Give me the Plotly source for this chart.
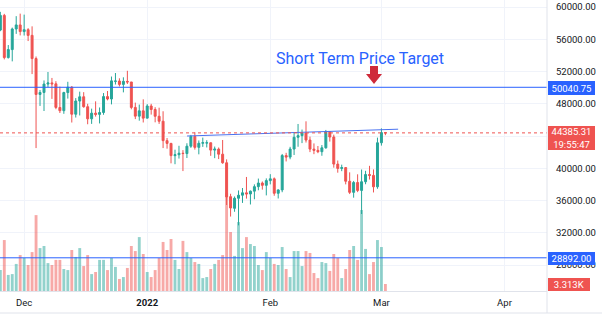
import pandas as pd
import plotly.graph_objects as go

# Daily BTC candles, 25 Nov 2021 - 2 Mar 2022
dates = pd.date_range("2021-11-25", periods=98, freq="D")

opens = [57138, 58960, 53723, 54716, 57274, 57776, 56950, 57184, 56484, 53601,
         49152, 49397, 50441, 50588, 50471, 47535, 47140, 49389, 50053, 46702,
         48336, 48864, 47632, 46133, 46835, 46681, 46914, 48887, 48588, 50780,
         50820, 50400, 50775, 50701, 47544, 46464, 47120, 46216, 47722, 47287,
         46446, 45833, 43425, 43082, 41561, 41679, 41865, 41822, 42735, 43949,
         42592, 43100, 43120, 43160, 42250, 42374, 41744, 40680, 36471, 35030,
         36275, 36655, 36950, 36809, 37160, 37717, 38166, 37881, 38466, 38691,
         36896, 37311, 41571, 41383, 42380, 43839, 44043, 44373, 43495, 42373,
         42217, 42054, 42535, 44545, 43873, 40515, 39974, 40080, 38386, 37008,
         38230, 37250, 38328, 39219, 39116, 37699, 43160, 44421]
highs = [59398, 59150, 55280, 57445, 58865, 59176, 59053, 57375, 57600, 53859,
         49699, 50891, 51936, 51200, 50797, 50125, 49485, 50724, 50189, 48700,
         49500, 49436, 47995, 47392, 48300, 47537, 49328, 49576, 51375, 51810,
         51156, 51280, 52088, 50704, 48139, 47900, 48548, 47954, 47990, 47570,
         47510, 47070, 43748, 43145, 42300, 42786, 42248, 43100, 44135, 44460,
         43447, 43800, 43478, 43180, 42691, 42574, 43505, 41100, 36835, 36500,
         37247, 37550, 38919, 37234, 38000, 38720, 38359, 38744, 39265, 38855,
         37387, 41772, 41913, 42656, 44500, 45492, 44799, 45821, 43920, 43079,
         42760, 42876, 44751, 44549, 44164, 40959, 40444, 40125, 39494, 38430,
         39249, 39843, 39683, 40300, 39855, 43800, 44949, 44500]
lows = [57000, 53500, 53610, 53256, 56666, 56476, 56458, 55777, 51680, 42500,
        47727, 47100, 50039, 48600, 47320, 46852, 46751, 48638, 45672, 46290,
        46547, 47511, 45456, 45500, 46406, 45558, 46630, 48421, 47920, 50384,
        50142, 49412, 50450, 47313, 46096, 45900, 45678, 46208, 46654, 45696,
        45500, 42500, 42430, 40610, 40501, 41200, 39650, 41268, 42528, 42311,
        41725, 42650, 42581, 41540, 41250, 41138, 40553, 35440, 34008, 34601,
        32917, 35701, 36234, 35507, 36155, 37268, 37351, 36632, 38000, 36586,
        36250, 37026, 40843, 41116, 41645, 42666, 43117, 43188, 42000, 41748,
        41870, 41550, 42427, 43307, 40073, 39450, 39639, 38000, 36800, 36350,
        37036, 34322, 38014, 38600, 37000, 37450, 42809, 44100]
closes = [58960, 53726, 54721, 57274, 57776, 56950, 57184, 56480, 53601, 49152,
          49396, 50441, 50588, 50471, 47545, 47140, 49389, 50053, 46702, 48343,
          48864, 47632, 46131, 46834, 46681, 46914, 48890, 48588, 50838, 50821,
          50400, 50775, 50701, 47543, 46464, 47120, 46216, 47722, 47286, 46446,
          45833, 43425, 43082, 41566, 41680, 41865, 41822, 42735, 43949, 42591,
          43100, 43177, 43160, 42250, 42375, 41744, 40680, 36445, 35071, 36276,
          36654, 36954, 36809, 37160, 37717, 38166, 37881, 38466, 38691, 36896,
          37311, 41574, 41382, 42380, 43840, 44043, 44373, 43495, 42373, 42217,
          42053, 42535, 44544, 43873, 40515, 39974, 40080, 38386, 37008, 38230,
          37250, 38327, 39219, 39116, 37699, 43160, 44421, 44385.31]
# Daily volume, thousands of BTC
volumes = [9.9, 24.1, 7.6, 8.0, 12.8, 17.0, 15.6, 12.3, 18.4, 35.9,
           20.3, 21.3, 13.2, 12.3, 14.7, 14.7, 10.4, 9.9, 19.4, 16.1,
           20.3, 11.8, 17.0, 8.0, 9.0, 14.7, 14.7, 9.9, 15.6, 11.4,
           5.7, 6.6, 10.9, 21.3, 18.9, 25.5, 17.5, 9.0, 6.6, 9.9,
           15.6, 23.2, 19.4, 24.6, 14.7, 10.4, 23.7, 18.4, 15.6, 13.7,
           12.8, 6.1, 6.6, 10.4, 12.8, 14.7, 17.0, 46.4, 27.9, 16.6,
           32.6, 20.3, 25.5, 22.2, 21.3, 12.3, 9.9, 18.4, 15.6, 12.8,
           12.3, 20.8, 10.4, 6.6, 18.9, 18.9, 11.8, 18.9, 18.0, 8.5,
           6.1, 13.7, 13.2, 9.5, 17.5, 15.6, 6.1, 10.4, 19.4, 21.3,
           14.7, 38.3, 19.9, 8.0, 13.7, 24.1, 20.8, 3.313]

# Horizontal levels and the rising trendline
target_level = 50040.75
support_level = 28892.00
last_price = closes[-1]
countdown = "19:55:47"
trend_x = ["2022-01-11 01:00", "2022-03-05 05:00"]
trend_y = [44000, 44843]

# Axis ticks (the 44000 label sits under the last-price tag)
price_ticks = list(range(28000, 60001, 4000))
price_labels = ["" if v == 44000 else f"{v:.2f}" for v in price_ticks]
time_ticks = ["2021-12-01", "2022-01-01", "2022-02-01", "2022-03-01", "2022-04-01"]
time_labels = ["Dec", "<b>2022</b>", "Feb", "Mar", "Apr"]

UP = "#26a69a"
DOWN = "#ef5350"
BLUE = "#2962ff"
GRID = "#f0f3fa"
BORDER = "#e0e3eb"
TEXT = "#131722"
FONT = "Roboto"

# plot area geometry (pixels) used for overlay placement
PW, PH = 547, 291


def px(xp):
    return xp / PW


def py(yp):
    return (PH - yp) / PH


vol_colors = ["rgba(38,166,154,0.5)" if c >= o else "rgba(239,83,80,0.5)"
              for o, c in zip(opens, closes)]

fig = go.Figure()
fig.add_trace(go.Bar(x=dates, y=volumes, marker=dict(color=vol_colors, line_width=0),
                     width=0.72 * 86400000, yaxis="y", showlegend=False))
fig.add_trace(go.Candlestick(x=dates, open=opens, high=highs, low=lows, close=closes,
                             yaxis="y2", showlegend=False, whiskerwidth=0,
                             increasing=dict(line=dict(color=UP, width=1), fillcolor=UP),
                             decreasing=dict(line=dict(color=DOWN, width=1), fillcolor=DOWN)))
fig.add_trace(go.Scatter(x=trend_x, y=trend_y, mode="lines", yaxis="y2",
                         line=dict(color="#4a72f0", width=1), showlegend=False))

shapes = [
    dict(type="line", xref="paper", yref="y2", x0=0, x1=1, y0=target_level, y1=target_level,
         line=dict(color=BLUE, width=1)),
    dict(type="line", xref="paper", yref="y2", x0=0, x1=1, y0=support_level, y1=support_level,
         line=dict(color=BLUE, width=1)),
    dict(type="line", xref="paper", yref="y2", x0=0, x1=1, y0=last_price, y1=last_price,
         line=dict(color=DOWN, width=1, dash="dot")),
    # price-scale separator and bottom border
    dict(type="line", xref="paper", yref="paper", x0=1, x1=1, y0=1, y1=py(313),
         line=dict(color=BORDER, width=1)),
    dict(type="line", xref="paper", yref="paper", x0=0, x1=px(602), y0=py(313), y1=py(313),
         line=dict(color=BORDER, width=1)),
    # red down arrow pointing at the target line
    dict(type="path", xref="paper", yref="paper", line=dict(width=0), fillcolor="#cf2a3a",
         path=(f"M {px(370)},{py(66)} L {px(378)},{py(66)} L {px(378)},{py(74)} "
               f"L {px(382)},{py(74)} L {px(374)},{py(84)} L {px(366)},{py(74)} "
               f"L {px(370)},{py(74)} Z")),
]


def tag(text, yc, h, bg, w=47, x0=547.5):
    return dict(text=text, xref="paper", yref="paper", x=px(x0), xanchor="left",
                y=py(yc), yanchor="middle", showarrow=False, bgcolor=bg,
                width=w, height=h, borderpad=0, borderwidth=0, align="center",
                font=dict(family=FONT, size=9.5, color="white"))


annotations = [
    dict(text="Short Term Price Target", xref="paper", yref="paper", x=px(360), y=py(59),
         xanchor="center", yanchor="middle", showarrow=False,
         font=dict(family=FONT, size=16, color=BLUE)),
    tag(f"{target_level:.2f}", 88, 14, BLUE),
    tag(f"{support_level:.2f}", 258.3, 13, BLUE),
    tag(f"{last_price:.2f}<br>{countdown}", 138, 24, DOWN),
    tag(f"{volumes[-1]:.3f}K", 284, 12.5, DOWN, w=41.5),
]

fig.update_layout(
    width=602, height=330, margin=dict(l=0, r=55, t=0, b=39),
    paper_bgcolor="white", plot_bgcolor="white",
    font=dict(family=FONT, size=9.5, color=TEXT),
    shapes=shapes, annotations=annotations,
    xaxis=dict(type="date", range=["2021-11-24 22:00", "2022-04-11 17:00"],
               tickvals=time_ticks, ticktext=time_labels, showgrid=True, gridcolor=GRID,
               showline=True, linecolor=BORDER, linewidth=1, ticks="",
               ticklabelstandoff=3,
               rangeslider=dict(visible=False), zeroline=False,
               tickfont=dict(family=FONT, size=9.5, color=TEXT)),
    yaxis=dict(range=[0, 137.65], visible=False, showgrid=False, fixedrange=True),
    yaxis2=dict(overlaying="y", side="right", range=[24775, 60868],
                tickvals=price_ticks, ticktext=price_labels,
                showgrid=True, gridcolor=GRID, zeroline=False, showline=False,
                ticks="", ticklabelstandoff=8,
                tickfont=dict(family=FONT, size=9.5, color=TEXT)),
)

fig.write_html("out.html")
